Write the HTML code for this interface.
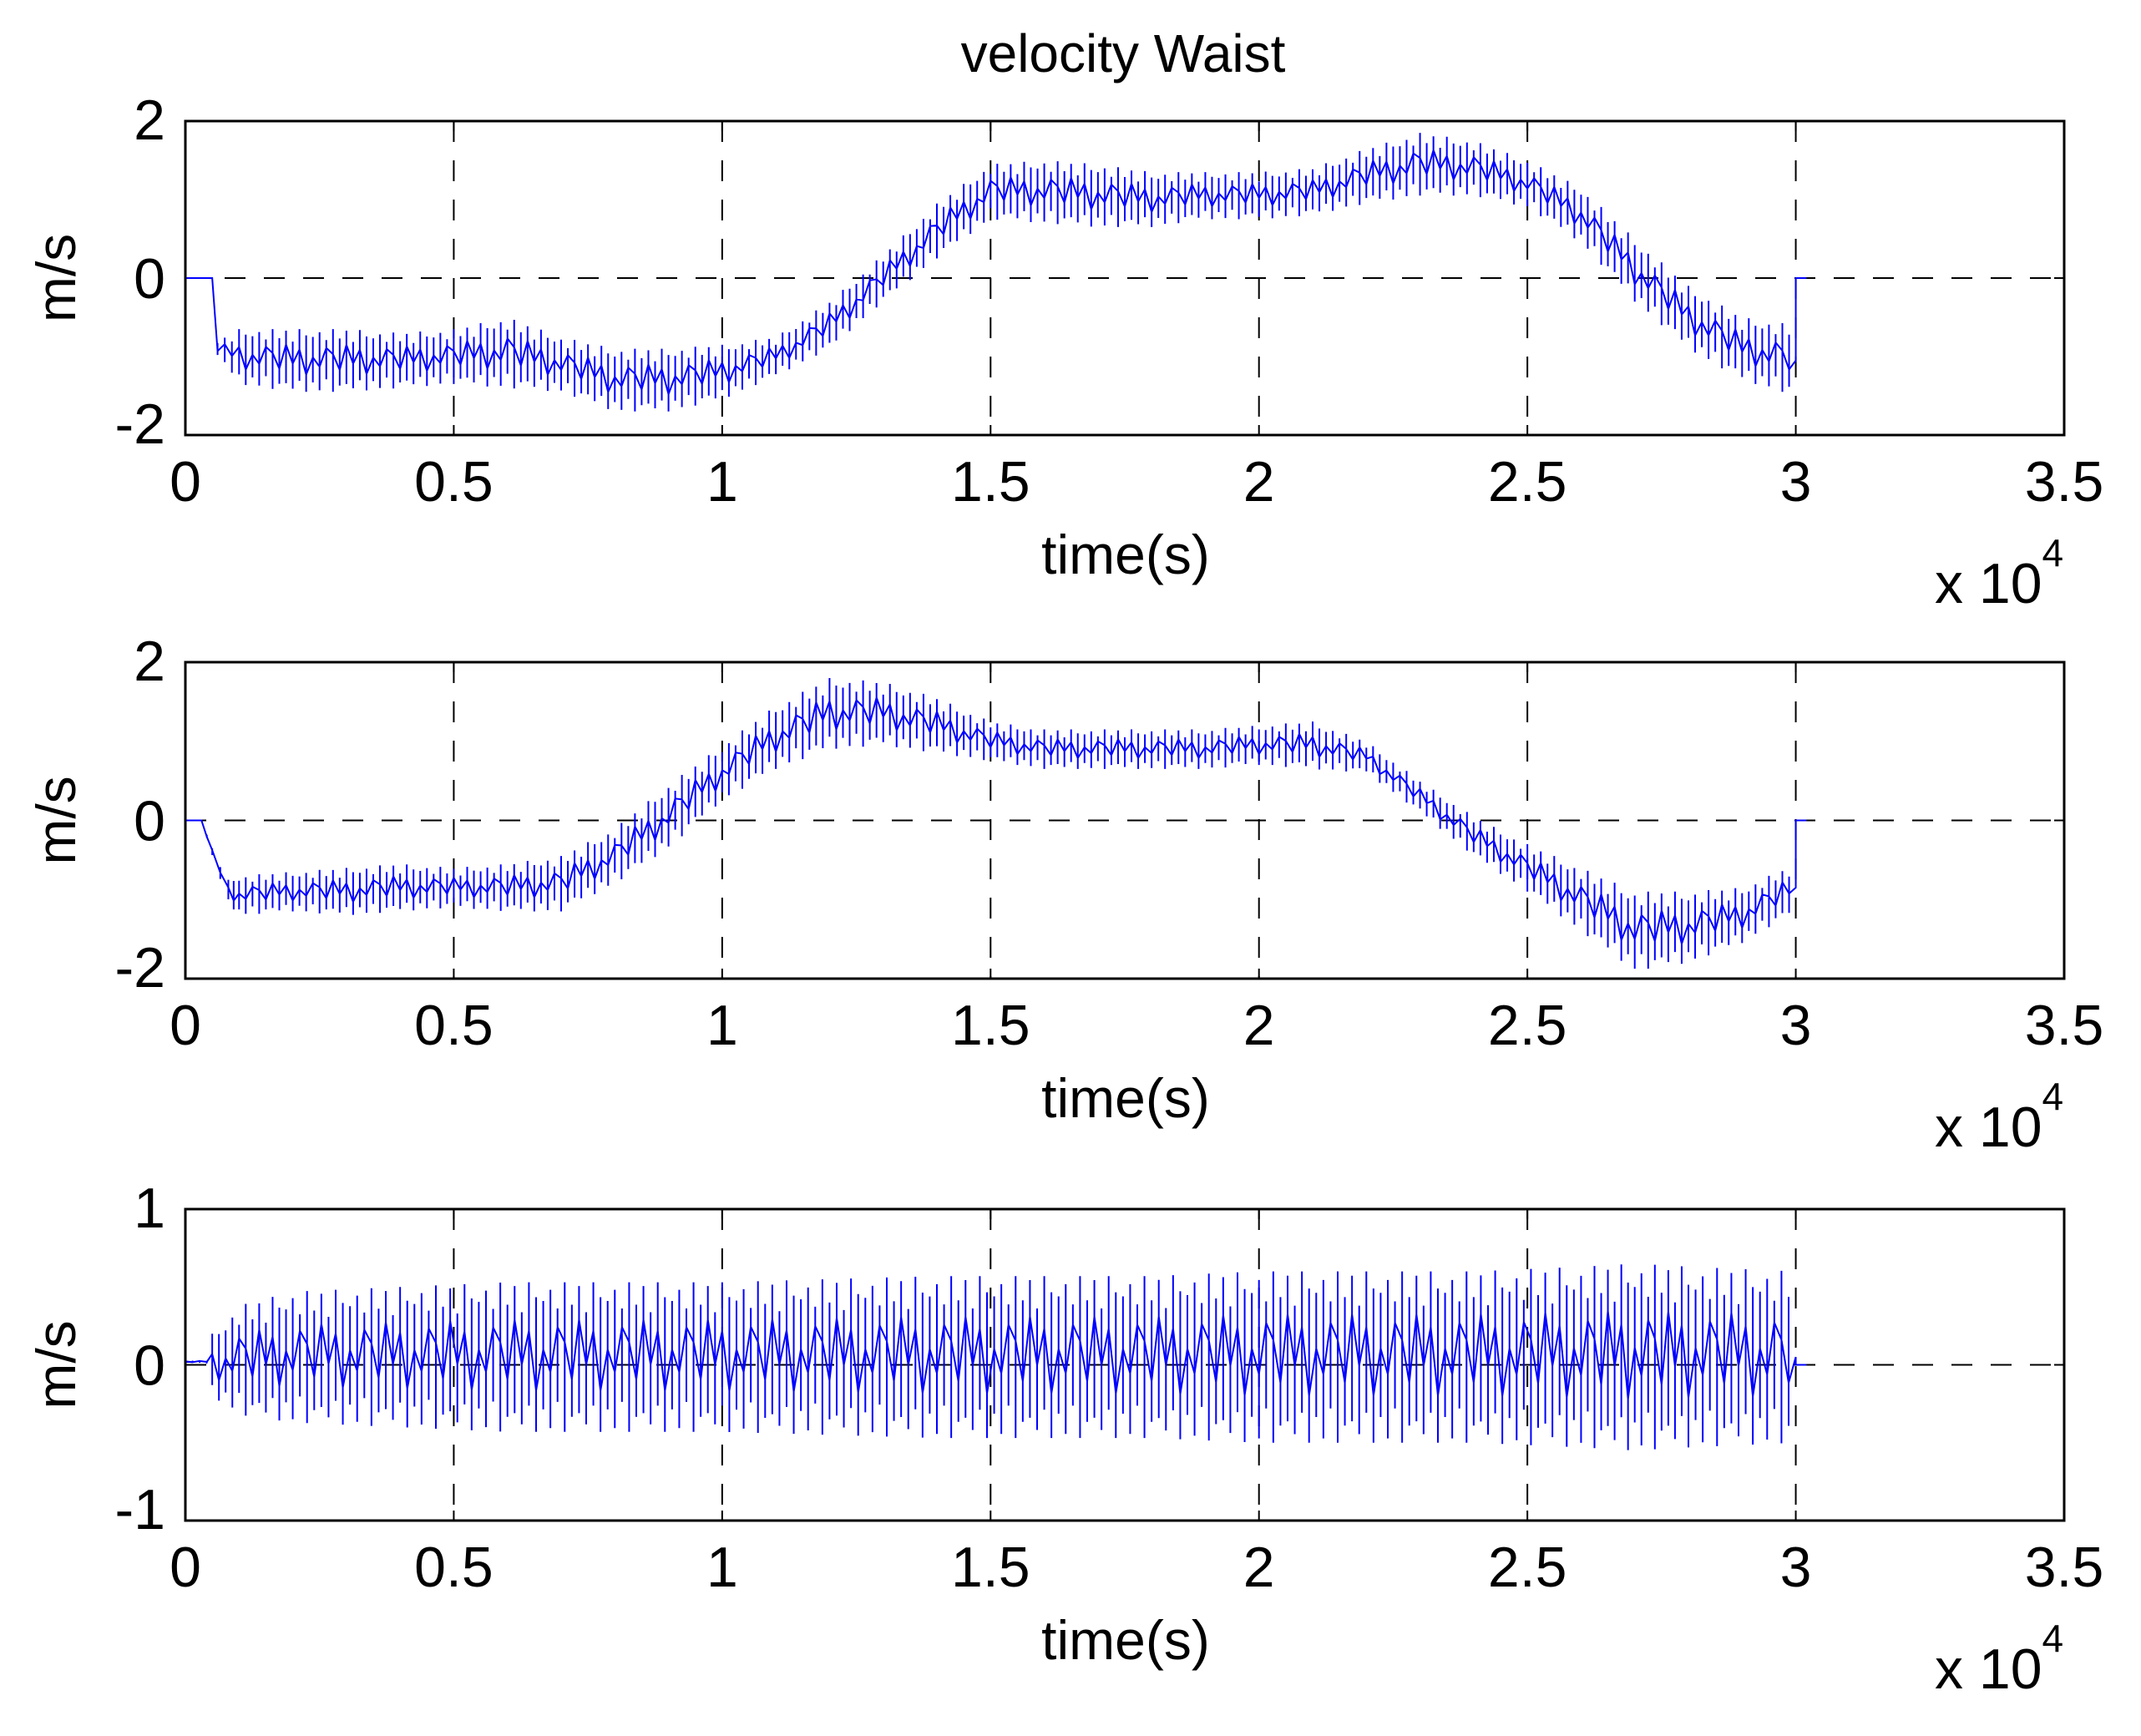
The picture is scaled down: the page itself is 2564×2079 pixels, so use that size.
<!DOCTYPE html>
<html><head><meta charset="utf-8"><style>
html,body{margin:0;padding:0;background:#fff}
svg{display:block}
text{font-family:"Liberation Sans",Arial,sans-serif;fill:#000}
</style></head><body>
<svg id="chart" width="2564" height="2079" viewBox="0 0 2564 2079" xmlns="http://www.w3.org/2000/svg">
<text x="1345" y="86" font-size="64" text-anchor="middle">velocity Waist</text>
</svg>
<script>
// x ticks (units of 1e4 s)
const xTicks = [0, 0.5, 1, 1.5, 2, 2.5, 3, 3.5];
const xTickLabels = ["0","0.5","1","1.5","2","2.5","3","3.5"];
// Panel 1
const t1 = [0,0.05,0.06,0.1,0.2,0.3,0.4,0.5,0.6,0.7,0.8,0.9,1.0,1.1,1.2,1.3,1.4,1.5,1.6,1.7,1.8,1.9,2.0,2.1,2.2,2.3,2.4,2.5,2.6,2.7,2.8,2.9,3.0];
const c1 = [0,0,-0.9,-1.0,-1.05,-1.05,-1.05,-1.0,-0.95,-1.1,-1.3,-1.3,-1.2,-1.0,-0.6,0.0,0.6,1.1,1.1,1.05,1.0,1.05,1.05,1.1,1.3,1.45,1.4,1.2,0.8,0.1,-0.5,-0.9,-1.05];
const s1 = [0,0,0.1,0.35,0.4,0.4,0.35,0.35,0.45,0.35,0.4,0.4,0.35,0.25,0.3,0.3,0.35,0.35,0.4,0.4,0.35,0.3,0.3,0.3,0.35,0.4,0.35,0.3,0.35,0.4,0.4,0.4,0.45];
const yTicks1 = [-2,0,2];
// Panel 2
const t2 = [0,0.03,0.05,0.08,0.1,0.2,0.3,0.4,0.5,0.6,0.7,0.8,0.9,1.0,1.1,1.2,1.3,1.4,1.5,1.6,1.7,1.8,1.9,2.0,2.1,2.2,2.3,2.4,2.5,2.6,2.7,2.8,2.9,3.0];
const c2 = [0,0,-0.4,-0.9,-0.95,-0.9,-0.9,-0.85,-0.85,-0.85,-0.8,-0.45,0.05,0.6,1.05,1.35,1.35,1.2,1.0,0.9,0.9,0.9,0.9,0.95,0.95,0.8,0.3,-0.2,-0.6,-1.0,-1.4,-1.35,-1.2,-0.85];
const s2 = [0,0,0.05,0.15,0.25,0.25,0.3,0.3,0.25,0.3,0.35,0.35,0.4,0.35,0.4,0.45,0.4,0.35,0.25,0.25,0.25,0.25,0.25,0.25,0.3,0.2,0.2,0.25,0.3,0.4,0.5,0.45,0.35,0.3];
const yTicks2 = [-2,0,2];
// Panel 3
const t3 = [0,0.04,0.05,0.1,0.2,0.4,0.6,0.8,1.0,1.2,1.4,1.6,1.8,2.0,2.2,2.4,2.6,2.7,2.8,3.0];
const c3 = [0.02,0.02,0.0,0.03,0.05,0.05,0.05,0.05,0.05,0.05,0.05,0.05,0.05,0.05,0.05,0.05,0.05,0.05,0.05,0.05];
const s3 = [0.01,0.01,0.2,0.35,0.42,0.45,0.48,0.48,0.48,0.5,0.52,0.52,0.52,0.55,0.55,0.55,0.58,0.6,0.58,0.55];
const yTicks3 = [-1,0,1];

const NS = "http://www.w3.org/2000/svg";
const svg = document.getElementById('chart');
const L = 222, R = 2472;
const xScale = v => L + (v / 3.5) * (R - L);
const jitter = [1,0.7,0.95,0.6,1,0.8,0.75,0.9,0.65];
const wob = [0.2,-0.3,0.5,-0.1,0.35,-0.45,0.1,-0.2,0.4];

function mk(tag, attrs, parent) {
  const e = document.createElementNS(NS, tag);
  for (const k in attrs) e.setAttribute(k, attrs[k]);
  (parent || svg).appendChild(e);
  return e;
}

function panel(idx, top, bot, yMin, yMax, yTicks, ts, cs, ss) {
  const g = mk('g', {});
  
  
  const yScale = v => bot - (v - yMin) / (yMax - yMin) * (bot - top);
  xTicks.forEach((v, i) => {
    if (i > 0 && i < xTicks.length - 1) {
      const ln = mk('line', {x1: xScale(v), x2: xScale(v), y1: top, y2: bot, stroke: '#000', 'stroke-width': 2, 'stroke-dasharray': '25,22'}, g);
      
      
    }
    const tk = mk('path', {d: `M${xScale(v)} ${bot}v-12M${xScale(v)} ${top}v12`, stroke: '#000', 'stroke-width': 2}, g);
    
    
    const tl = mk('text', {x: xScale(v), y: bot + 79, 'font-size': 68, 'text-anchor': 'middle'}, g);
    tl.textContent = xTickLabels[i];
    
    
  });
  yTicks.forEach(v => {
    if (v === 0) {
      const ln = mk('line', {x1: L, x2: R, y1: yScale(v), y2: yScale(v), stroke: '#000', 'stroke-width': 2, 'stroke-dasharray': '25,22'}, g);
      
      
    }
    const tk = mk('path', {d: `M${L} ${yScale(v)}h12M${R} ${yScale(v)}h-12`, stroke: '#000', 'stroke-width': 2}, g);
    
    
    let yy = yScale(v) + 24;
    if (v === yMax) yy = yScale(v) + 22; if (v === yMin) yy = yScale(v) + 10;
    const tl = mk('text', {x: 198, y: yy, 'font-size': 68, 'text-anchor': 'end'}, g);
    tl.textContent = String(v);
    
    
  });
  let d = `M${L} ${yScale(cs[0])}`;
  let k = 0;
  for (let i = 0; i < ts.length - 1; i++) {
    const x0 = xScale(ts[i]), x1 = xScale(ts[i + 1]);
    if (ss[i] === 0 && ss[i+1] === 0) { d += `L${x1} ${yScale(cs[i+1])}`; continue; }
    const n = Math.max(1, Math.round((x1 - x0) / 8.5));
    for (let j = 0; j < n; j++) {
      const f = j / n;
      const x = x0 + f * (x1 - x0);
      const c = cs[i] + f * (cs[i+1] - cs[i]);
      const s = ss[i] + f * (ss[i+1] - ss[i]);
      const a = jitter[k % jitter.length], b = jitter[(k + 4) % jitter.length];
      const hi = yScale(c + s * a), lo = yScale(c - s * b);
      const mid = yScale(c + s * wob[k % wob.length]);
      if (k % 2 === 0) d += `L${x} ${mid}L${x} ${hi}L${x} ${lo}L${x} ${mid}`;
      else d += `L${x} ${mid}L${x} ${lo}L${x} ${hi}L${x} ${mid}`;
      k++;
    }
  }
  const last = ts.length - 1;
  d += `L${xScale(ts[last])} ${yScale(cs[last])}L${xScale(ts[last])} ${yScale(0)}L${xScale(3.02)} ${yScale(0)}`;
  const p = mk('path', {d: d, fill: 'none', stroke: '#0000ff', 'stroke-width': 2}, g);
  
  
  const fr = mk('rect', {x: L, y: top, width: R - L, height: bot - top, fill: 'none', stroke: '#000', 'stroke-width': 3}, g);
  
  
  const yl = mk('text', {x: 0, y: 0, 'font-size': 66, 'text-anchor': 'middle', transform: `translate(90 ${(top + bot) / 2}) rotate(-90)`}, g);
  yl.textContent = 'm/s';
  
  
  const xl = mk('text', {x: 1348, y: bot + 166, 'font-size': 66, 'text-anchor': 'middle'}, g);
  xl.textContent = 'time(s)';
  
  
  const ex = mk('text', {x: 2317, y: bot + 201, 'font-size': 68}, g);
  
  
  ex.textContent = 'x 10';
  const sup = mk('tspan', {dy: -44, 'font-size': 46}, ex);
  sup.textContent = '4';
}
panel(1, 145, 521, -2, 2, yTicks1, t1, c1, s1);
panel(2, 793, 1172, -2, 2, yTicks2, t2, c2, s2);
panel(3, 1448, 1821, -1, 1, yTicks3, t3, c3, s3);
</script>
</body></html>
